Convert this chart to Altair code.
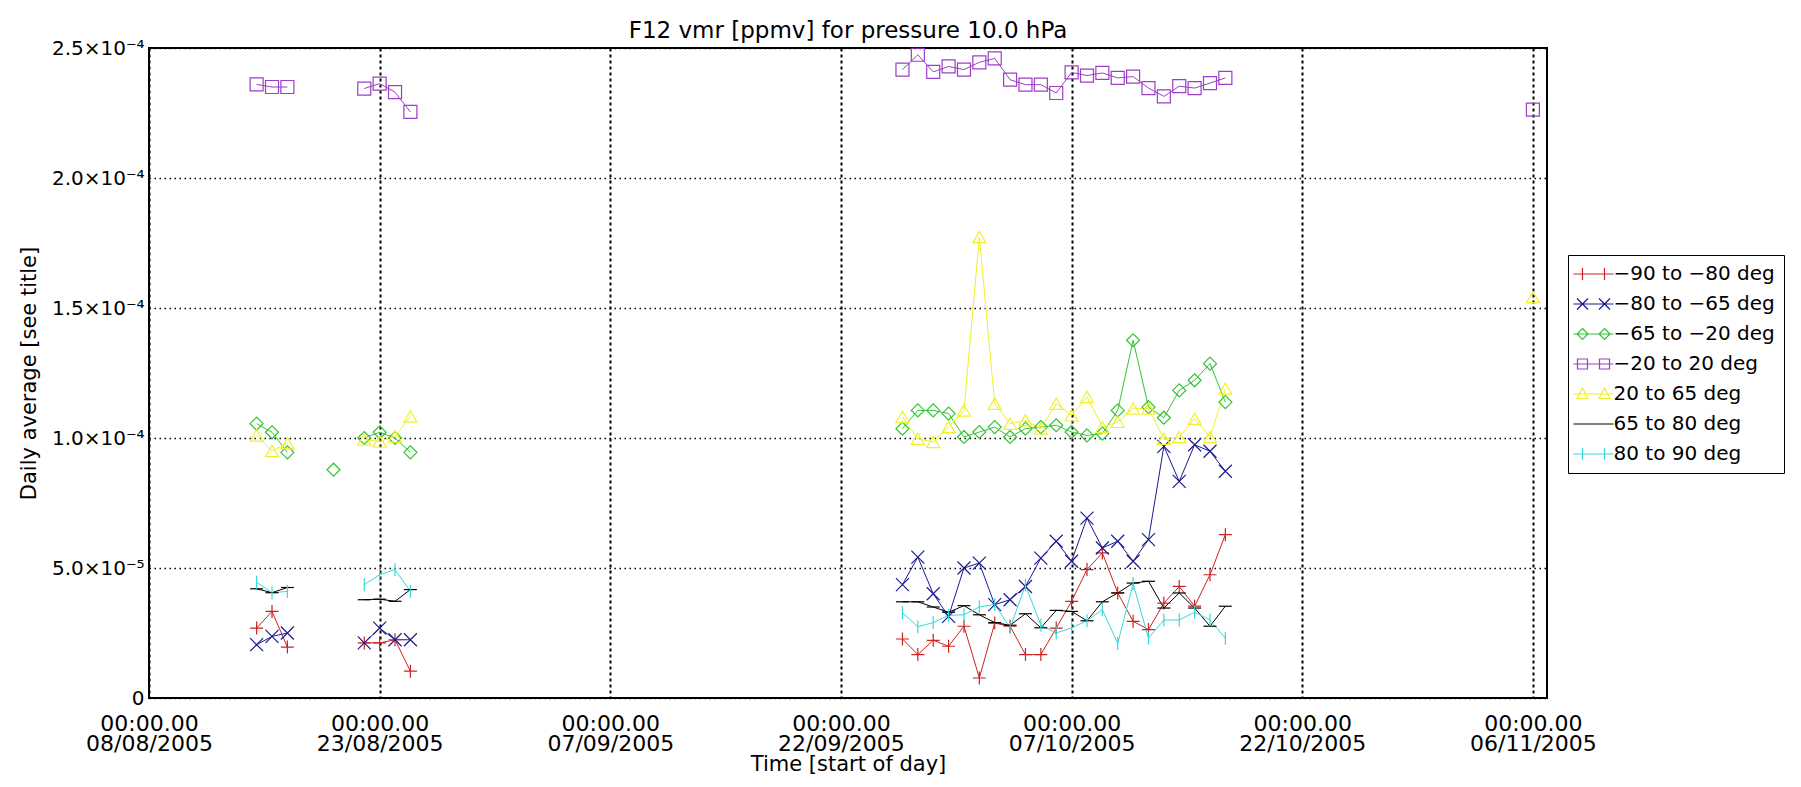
import altair as alt
import pandas as pd

DATES = ["2005-08-15", "2005-08-16", "2005-08-17", "2005-08-20", "2005-08-22", "2005-08-23",
         "2005-08-24", "2005-08-25",
         "2005-09-26", "2005-09-27", "2005-09-28", "2005-09-29", "2005-09-30", "2005-10-01",
         "2005-10-02", "2005-10-03", "2005-10-04", "2005-10-05", "2005-10-06", "2005-10-07",
         "2005-10-08", "2005-10-09", "2005-10-10", "2005-10-11", "2005-10-12", "2005-10-13",
         "2005-10-14", "2005-10-15", "2005-10-16", "2005-10-17",
         "2005-11-06"]

# values in units of 1e-5 ppmv
RED = [2.69, 3.33, 1.96, None, 2.12, 2.12, 2.24, 1.03,
       2.27, 1.67, 2.22, 1.99, 2.76, 0.77, 2.88, 2.76, 1.67, 1.67, 2.69, 3.72, 4.94, 5.58,
       4.04, 2.95, 2.63, 3.65, 4.29, 3.53, 4.74, 6.28,
       None]
BLUE = [2.05, 2.37, 2.50, None, 2.12, 2.69, 2.24, 2.24,
        4.36, 5.42, 4.01, 3.14, 5.00, 5.19, 3.59, 3.78, 4.29, 5.38, 6.03, 5.26, 6.92, 5.77,
        6.03, 5.26, 6.09, 9.68, 8.33, 9.74, 9.49, 8.72,
        None]
GREEN = [10.55, 10.22, 9.45, 8.78, 10.00, 10.22, 10.00, 9.45,
         10.36, 11.06, 11.06, 10.94, 10.04, 10.23, 10.42, 10.04, 10.36, 10.42, 10.49, 10.23,
         10.10, 10.17, 11.06, 13.76, 11.19, 10.78, 11.83, 12.22, 12.86, 11.38,
         None]
PURPLE = [23.60, 23.50, 23.50, None, 23.44, 23.63, 23.30, 22.54,
          24.17, 24.74, 24.08, 24.29, 24.17, 24.45, 24.60, 23.78, 23.59, 23.59, 23.27, 24.06,
          23.94, 24.04, 23.85, 23.90, 23.46, 23.14, 23.53, 23.46, 23.65, 23.85,
          22.63]
YELLOW = [10.10, 9.50, 9.80, None, 9.94, 9.87, 10.06, 10.83,
          10.81, 9.97, 9.85, 10.42, 11.06, 17.73, 11.32, 10.55, 10.68, 10.36, 11.32, 10.87,
          11.58, 10.42, 10.62, 11.13, 11.13, 9.97, 10.04, 10.74, 10.04, 11.90,
          15.42]
BLACK = [4.20, 4.05, 4.25, None, 3.78, 3.80, 3.72, 4.17,
         3.70, 3.70, 3.50, 3.30, 3.55, 3.20, 2.90, 2.80, 3.24, 2.70, 3.37, 3.33, 2.97, 3.70,
         4.04, 4.42, 4.49, 3.46, 4.04, 3.46, 2.76, 3.53,
         None]
CYAN = [4.45, 4.05, 4.10, None, 4.36, 4.74, 4.94, 4.10,
        3.28, 2.74, 2.90, 3.18, 3.20, 3.50, 3.60, 2.70, 4.34, 2.80, 2.50, 2.70, 2.97, 3.40,
        2.10, 4.40, 2.30, 3.00, 3.00, 3.30, 3.00, 2.30,
        None]

SERIES = ["\u221290 to \u221280 deg", "\u221280 to \u221265 deg", "\u221265 to \u221220 deg",
          "\u221220 to 20 deg", "20 to 65 deg", "65 to 80 deg", "80 to 90 deg"]
VALUES = [RED, BLUE, GREEN, PURPLE, YELLOW, BLACK, CYAN]
COLORS = ["#cc2222", "#1c1c8e", "#33c433", "#9b3fc6", "#f0f028", "#000000", "#3ad8d8"]
MARKER_KEYS = ["plus", "cross", "diamond", "square", "triangle", "hbar", "vbar"]
MARKERS = ["M-1,0L1,0M0,-1L0,1", "M-1,-1L1,1M-1,1L1,-1", "diamond", "square",
           "triangle-up", "M-1,0L1,0", "M0,-1L0,1"]
MARKER_SIZES = [169, 169, 144, 100, 121, 144, 144]
LEGEND_PATHS = [
    "M-4,0L4,0M-2.2,-1.2L-2.2,1.2M2.2,-1.2L2.2,1.2",
    "M-4,0L4,0M-3.3,-1.1L-1.1,1.1M-3.3,1.1L-1.1,-1.1M1.1,-1.1L3.3,1.1M1.1,1.1L3.3,-1.1",
    "M-4,0L4,0M-2.2,-1.1L-1.1,0L-2.2,1.1L-3.3,0ZM2.2,-1.1L3.3,0L2.2,1.1L1.1,0Z",
    "M-4,0L4,0M-3.2,-1L-1.2,-1L-1.2,1L-3.2,1ZM1.2,-1L3.2,-1L3.2,1L1.2,1Z",
    "M-4,0L4,0M-2.2,-1.2L-1.1,0.9L-3.3,0.9ZM2.2,-1.2L3.3,0.9L1.1,0.9Z",
    "M-4,0L4,0",
    "M-4,0L4,0M-2.2,-1.2L-2.2,1.2M2.2,-1.2L2.2,1.2",
]
TICK_DATES = [(2005, 8, 8), (2005, 8, 23), (2005, 9, 7), (2005, 9, 22), (2005, 10, 7),
              (2005, 10, 22), (2005, 11, 6)]
Y_TICKS = [0, 5e-5, 1e-4, 1.5e-4, 2e-4, 2.5e-4]

rows = []
for name, key, vals in zip(SERIES, MARKER_KEYS, VALUES):
    seg = 0
    prev = None
    for d, v in zip(DATES, vals):
        if v is None:
            prev = None
            continue
        day = pd.Timestamp(d)
        if prev is None or (day - prev).days > 1:
            seg += 1
        prev = day
        rows.append({"date": d, "value": v * 1e-5, "series": name, "marker": key,
                     "seg": f"{name}#{seg}"})
df = pd.DataFrame(rows)

FONT = "DejaVu Sans"


def dt(y, m, d, h=0):
    return alt.DateTime(year=y, month=m, date=d, hours=h, utc=True)


shape_expr = ""
for name, p in zip(SERIES[:-1], LEGEND_PATHS[:-1]):
    shape_expr += f"datum.value === '{name}' ? '{p}' : "
shape_expr += f"'{LEGEND_PATHS[-1]}'"

legend = alt.Legend(
    title=None, orient="none", legendX=1419, legendY=207,
    labelFont=FONT, labelFontSize=20, labelColor="black", labelLimit=400,
    strokeColor="black", fillColor="white", padding=9,
    rowPadding=10, labelOffset=10, symbolOffset=6.5, symbolSize=100,
    symbolType=alt.ExprRef(expr=shape_expr),
    symbolStrokeWidth=1.2, symbolFillColor="transparent", symbolOpacity=1,
)

x_enc = alt.X(
    "date:T",
    scale=alt.Scale(type="utc", domain=[dt(2005, 8, 8), dt(2005, 11, 6, 22)]),
    axis=alt.Axis(
        values=[dt(*t) for t in TICK_DATES],
        labelExpr="['00:00.00', utcFormat(datum.value, '%d/%m/%Y')]",
        title="Time [start of day]", titleFont=FONT, titleFontSize=21, titleFontWeight="normal",
        titleX=699, titleY=66, titleBaseline="middle", titleAlign="center",
        labelFont=FONT, labelFontSize=22, labelLineHeight=20, labelPadding=15,
        labelColor="black", titleColor="black",
        grid=True, gridColor="black", gridDash=[3, 3], gridWidth=2, gridOpacity=1,
        ticks=False, tickSize=0, domain=False, labelFlush=False, labelOverlap=False,
    ),
)
y_enc = alt.Y(
    "value:Q",
    scale=alt.Scale(domain=[0, 2.5e-4], nice=False, zero=True),
    axis=alt.Axis(
        values=Y_TICKS,
        labelExpr="datum.value == 0 ? '0' : (datum.value < 9.9e-5 ? format(datum.value*1e5, '.1f') + '\u00d710\u207b\u2075' : format(datum.value*1e4, '.1f') + '\u00d710\u207b\u2074')",
        title="Daily average [see title]", titleFont=FONT, titleFontSize=21, titleFontWeight="normal",
        titleX=-120, titleY=325, titleAngle=270, titleBaseline="middle", titleAlign="center",
        labelFont=FONT, labelFontSize=20, labelPadding=5, labelColor="black", titleColor="black",
        grid=True, gridColor="black", gridDash=[1.5, 3.5], gridWidth=1.5, gridOpacity=1,
        ticks=False, tickSize=0, domain=False, labelOverlap=False,
    ),
)
scale_color = alt.Scale(domain=SERIES, range=COLORS)

lines = alt.Chart(df).mark_line(strokeWidth=1).encode(
    x=x_enc, y=y_enc,
    color=alt.Color("series:N", scale=scale_color, legend=legend),
    detail="seg:N",
    order=alt.Order("date:T"),
)
points = alt.Chart(df).mark_point(filled=False, strokeWidth=1.2, opacity=1).encode(
    x=x_enc, y=y_enc,
    color=alt.Color("series:N", scale=scale_color, legend=None),
    shape=alt.Shape("marker:N", scale=alt.Scale(domain=MARKER_KEYS, range=MARKERS), legend=None),
    size=alt.Size("marker:N", scale=alt.Scale(domain=MARKER_KEYS, range=MARKER_SIZES), legend=None),
)

chart = alt.layer(lines, points).properties(
    width=1398, height=650,
    title=alt.TitleParams("F12 vmr [ppmv] for pressure 10.0 hPa", font=FONT, fontSize=23,
                          fontWeight="normal", color="black", anchor="middle",
                          offset=0, dy=28, baseline="bottom", frame="group"),
    autosize=alt.AutoSizeParams(type="none"),
    padding={"left": 141, "top": 40, "right": 245, "bottom": 78},
    background="white",
).configure_view(stroke="black", strokeWidth=2)

chart.save("out.html", embed_options={"renderer": "svg", "actions": False})
